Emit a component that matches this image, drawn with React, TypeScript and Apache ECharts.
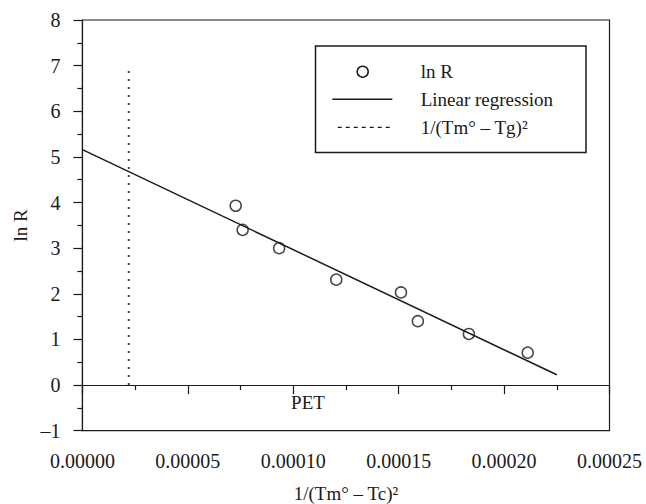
import React, { useEffect, useRef } from "react";
import * as echarts from "echarts";

// ln R data points
const lnRX = [0.0000727, 0.000076, 0.0000933, 0.0001204, 0.0001511, 0.0001591, 0.0001833, 0.0002112];
const lnRY = [3.93, 3.4, 3.0, 2.31, 2.03, 1.4, 1.12, 0.71];
// linear regression end points
const regressionX = [0, 0.000225];
const regressionY = [5.16, 0.225];
// 1/(Tm° – Tg)² marker line
const tgX = [0.000022, 0.000022];
const tgY = [0, 7];
// axis ranges
const xRange = [0, 0.00025, 0.00005];
const yRange = [-1, 8, 1];
const legendLabels = ["ln R", "Linear regression", "1/(Tm° – Tg)²"];
const xTitle = "1/(Tm° – Tc)²";
const yTitle = "ln R";
const noteText = "PET";

const FONT = "'Liberation Serif', 'DejaVu Serif', 'Times New Roman', serif";
const INK = "#1a1a1a";

export default function App() {
  const ref = useRef<HTMLDivElement>(null);
  useEffect(() => {
    document.body.style.margin = "0";
    if (!ref.current) return;
    const chart = echarts.init(ref.current, null, { renderer: "svg" });
    const legX = 315.5, legY = 46, legW = 270.5, legH = 106.5;
    const rowY = [71.7, 99.3, 127.3];
    const textStyle = { fontFamily: FONT, fontSize: 19, fill: INK };
    chart.setOption({
      animation: false,
      backgroundColor: "#fff",
      grid: {
        left: 82.4,
        right: 36.5,
        top: 20,
        bottom: 73.3,
        show: true,
        borderColor: INK,
        borderWidth: 1.2,
        backgroundColor: "transparent",
        outerBoundsMode: "none",
      },
      xAxis: {
        type: "value",
        min: xRange[0],
        max: xRange[1],
        interval: xRange[2],
        name: xTitle,
        nameLocation: "middle",
        nameGap: 53,
        nameTextStyle: { fontFamily: FONT, fontSize: 19, color: INK },
        axisLine: { show: true, lineStyle: { color: INK, width: 1.2 } },
        axisTick: { show: true, length: 9, inside: false, lineStyle: { color: INK, width: 1.2 } },
        minorTick: { show: true, splitNumber: 2, length: 5, lineStyle: { color: INK, width: 1.2 } },
        splitLine: { show: false },
        axisLabel: {
          margin: 20,
          fontFamily: FONT,
          fontSize: 20,
          color: INK,
          formatter: (v: number) => v.toFixed(5),
        },
      },
      yAxis: {
        type: "value",
        min: yRange[0],
        max: yRange[1],
        interval: yRange[2],
        name: yTitle,
        nameLocation: "middle",
        nameGap: 42,
        nameRotate: 90,
        nameTextStyle: { fontFamily: FONT, fontSize: 19, color: INK },
        axisLine: { show: true, lineStyle: { color: INK, width: 1.2 } },
        axisTick: { show: true, length: 9, inside: false, lineStyle: { color: INK, width: 1.2 } },
        minorTick: { show: true, splitNumber: 2, length: 5, lineStyle: { color: INK, width: 1.2 } },
        splitLine: { show: false },
        axisLabel: {
          margin: 22,
          fontFamily: FONT,
          fontSize: 20,
          color: INK,
          formatter: (v: number) => (v < 0 ? "–" + Math.abs(v) : String(v)),
        },
      },
      series: [
        {
          name: legendLabels[1],
          type: "line",
          data: regressionX.map((x, i) => [x, regressionY[i]]),
          symbol: "none",
          lineStyle: { color: INK, width: 1.5 },
          z: 2,
        },
        {
          name: legendLabels[2],
          type: "line",
          data: tgX.map((x, i) => [x, tgY[i]]),
          symbol: "none",
          lineStyle: { color: "#444", width: 2, type: [2, 6] },
          z: 2,
        },
        {
          name: legendLabels[0],
          type: "scatter",
          data: lnRX.map((x, i) => [x, lnRY[i]]),
          symbol: "circle",
          symbolSize: 11,
          itemStyle: { color: "rgba(255,255,255,0)", borderColor: INK, borderWidth: 1.5 },
          z: 3,
        },
      ],
      graphic: [
        {
          type: "rect",
          shape: { x: legX, y: legY, width: legW, height: legH },
          style: { fill: "#fff", stroke: INK, lineWidth: 1.5 },
          z: 10,
        },
        {
          type: "circle",
          shape: { cx: 362.7, cy: rowY[0], r: 5.5 },
          style: { fill: "#fff", stroke: INK, lineWidth: 1.5 },
          z: 11,
        },
        {
          type: "line",
          shape: { x1: 332.3, y1: rowY[1], x2: 392.3, y2: rowY[1] },
          style: { stroke: INK, lineWidth: 1.5 },
          z: 11,
        },
        {
          type: "line",
          shape: { x1: 337.7, y1: rowY[2], x2: 391, y2: rowY[2] },
          style: { stroke: INK, lineWidth: 1.3, lineDash: [4, 4] },
          z: 11,
        },
        ...legendLabels.map((t, i) => ({
          type: "text",
          x: 420.7,
          y: rowY[i],
          style: { ...textStyle, text: t, verticalAlign: "middle", align: "left" },
          z: 11,
        })),
        {
          type: "text",
          x: 308,
          y: 402.7,
          style: { ...textStyle, text: noteText, verticalAlign: "middle", align: "center" },
          z: 11,
        },
      ],
    });
    return () => chart.dispose();
  }, []);
  return <div ref={ref} style={{ width: 646, height: 504 }} />;
}
